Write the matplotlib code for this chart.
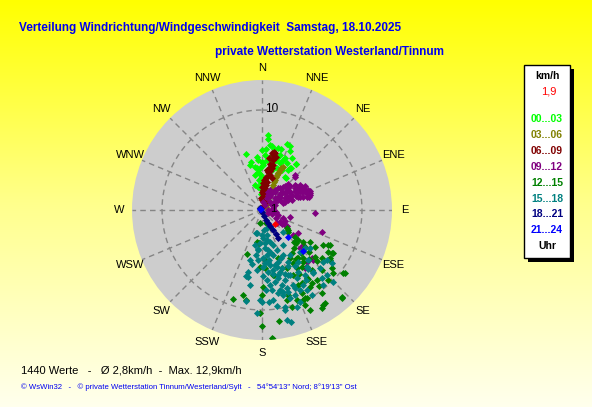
import numpy as np
import matplotlib
matplotlib.use("Agg")
import matplotlib.pyplot as plt
from matplotlib.colors import LinearSegmentedColormap
from matplotlib.patches import Rectangle

# ---------------- data (direction in degrees from N, speed in km/h) ----------------
dir_00_03 = [4.8, 4.6, 20.5, 23.5, 3.8, 11.4, 25.6, -16.2, -5.7, 0, 8.5, 18, 24, 21, 34, 36.6, -9.2, -2.7,
             6.7, 34.6, -2, -5, -9, 3.7, 19.4, 11.7, 15.9, 3, 13.2, 26, 1.7, 6, -5.5, 24, -12.8, -7.2, -4.2,
             36.2, 1.6, 24.7, 33.9, 36.8, -3, -1, 10, 15, 28, 17, 9, -6, -2,
             -11.3, -14.9, -4.6, 0, 7, 14.5, 22.8, 33, 15.6, -15.6, 30]
spd_00_03 = [7.5, 7.1, 7.05, 7.0, 6.1, 6.2, 6.5, 5.8, 5.36, 4.8, 5.4, 5.8, 5.7, 5.0, 5.1, 5.7, 4.4, 4.2,
             4.0, 4.05, 3.5, 3.0, 2.36, 2.0, 4.4, 4.8, 5.4, 5.5, 5.0, 4.5, 4.5, 5.0, 3.85, 4.0, 4.95, 4.2, 3.7,
             5.7, 4.7, 4.5, 5.0, 3.96, 2.7, 3.2, 3.8, 4.2, 5.3, 6.4, 6.5, 2.2, 1.6,
             3.57, 4.66, 5.02, 6.0, 6.55, 6.4, 5.42, 4.77, 5.19, 2.6, 6.0]

dir_03_06 = [53, 40, 31, 28, 26.6, 25, 24.4, 23.8, 23.2, 23, 23, 23.2, 23.4, 23.8, 24.2, 25, 26]
spd_03_06 = [0.5, 0.8, 1.17, 1.5, 1.79, 2.1, 2.42, 2.7, 3.05, 3.3, 3.58, 3.8, 4.03, 4.2, 4.39, 4.6, 4.79]

dir_06_09 = [6, 5.6, 1, 7.9, 2.8, 10.6, 6.8, 12.9, 9.3, 13.1, 9.9, 12.1, 11.6, 11.9, 25.7, -6.3, 15.7, -0.8,
             5.7, 17, 6.7, 14.1, 8.1, 14.7, 12.8, 0, 4, 3, 9, 4, 8, 11, 10, 13, 10]
spd_06_09 = [0.34, 1.34, 1.83, 2.19, 2.67, 2.88, 3.36, 3.59, 3.88, 4.28, 4.64, 5.11, 5.62, 5.96, 0.92, 1.18,
             1.73, 2.33, 3.02, 3.31, 4.03, 4.64, 5.22, 5.51, 5.88, 1.0, 1.6, 2.0, 2.5, 3.0, 3.2, 4.0, 4.4, 5.3, 5.8]

dir_09_12 = [44.7, 58.7, 58.5, 66.6, 72.6, 72.1, 52.7, 47.1, 50.8, 63.2, 64.3, 63, 57.4, 62.7, 22.8, 21.8, 93.6,
             103.4, 111.3, 107, 123, 123, 110, 117, 81.4, 123, 69.5, 56.7, 59.6, 51, 49.7, 58.5, 72.6, 71.4, 70.7,
             132, 125, 123, 130, 139, 135, 134, 19, 22, 37, 42.4, 43.3, 70.8, 65, 73.4, 56.8, 53.5, 59,
             45, 55, 62, 68, 66, 75, 60, 68, 30, 35, 90, 100, 115, 128.6, 143.6, 134.2,
             33, 39.3, 43.8, 49.4, 52.9, 56.7, 60.8, 48.4, 53.5, 57.3, 60.1, 63.4, 67.3, 68.4, 47.3, 60.9,
             70.8, 66.8, 29.7, 45, 69, 70.1, 31, 90, 111.8, 119.7, 123.7, 7]
spd_09_12 = [4.69, 4.18, 4.46, 5.04, 5.03, 4.34, 3.3, 2.69, 2.1, 3.33, 3.85, 2.58, 1.54, 1.09, 1.63, 2.15, 5.31,
             2.88, 2.29, 1.71, 2.75, 2.15, 6.35, 0.71, 1.15, 4.26, 4.77, 3.95, 4.6, 3.18, 2.58, 1.91, 2.23, 3.13, 4.03,
             1.98, 2.41, 2.94, 5.41, 6.83, 5.4, 7.14, 1.94, 1.26, 2.71, 3.16, 4.81, 5.08, 4.74, 4.66, 3.35, 2.24, 1.31,
             3.7, 4.2, 4.0, 3.7, 4.4, 4.9, 2.9, 2.8, 1.8, 2.2, 1.0, 1.4, 2.5, 4.0, 7.24, 6.93,
             2.39, 2.84, 3.32, 3.69, 4.14, 4.55, 4.92, 2.41, 2.86, 3.33, 3.81, 4.25, 4.66, 5.16, 1.77, 2.06,
             2.44, 3.05, 1.61, 1.13, 1.39, 3.83, 0.58, 0.6, 1.08, 1.61, 2.16, 0.81]

dir_12_15 = [117.2, 122.2, 121.8, 125.4, 131.6, 127.9, 137.4, 147.2, 154.4, 154, 148, 142, 144.4, 136.5, 129.9,
             149.9, 141.4, 149.2, 162.8, 151.6, 199, 184.6, 182, 179, 180.2, 192.4, 198.2, 181.1, 180.1, 175.3,
             171.1, 164.7, 158.9, 154.2, 155.6, 127.3, 137.7, 127.3, 148.7, 188.5, 129.5, 129.6, 123.4, 130.5,
             131.4, 129, 126.5, 186.3, 190.3, 117.8, 121.3, 126.3, 143.1, 129, 134.4, 139.5, 146.8, 145.6, 157,
             169.5, 177, 154.5, 152.8, 162.9, 155.3, 146, 145.9, 149.6, 141.7, 144.3, 154.3, 164.5, 154.4, 189.5,
             176.6, 161.4, 161.3, 170.1, 175.7, 135, 140, 138, 145, 136, 133, 140, 145, 150, 132, 128, 125, 120,
             135, 143, 146]
spd_12_15 = [7.65, 7.83, 8.2, 8.34, 9.54, 10.3, 11.78, 11.3, 11.09, 9.82, 9.04, 8.88, 10.25, 9.64, 9.09,
             5.58, 6.62, 6.78, 8.9, 8.34, 4.69, 3.34, 5.67, 7.67, 8.5, 8.7, 9.37, 10.33, 11.57, 12.9,
             11.24, 9.33, 9.65, 8.33, 10.43, 3.3, 11.94, 10.44, 11.5, 1.35, 3.41, 4.71, 5.75, 5.65,
             7.06, 7.68, 3.07, 3.35, 9.15, 7.5, 8.34, 8.44, 6.04, 4.24, 4.76, 6.36, 8.16, 5.25, 6.33,
             6.61, 5.84, 9.23, 9.92, 10.1, 9.9, 11.26, 8.86, 6.18, 7.22, 5.95, 7.21, 1.38, 1.85, 3.21,
             5.0, 5.1, 6.15, 6.6, 12.87, 4.5, 5.0, 5.8, 6.0, 6.8, 7.5, 7.8, 7.0, 7.4, 6.3, 5.2, 6.5, 7.0,
             8.5, 9.5, 8.3]

dir_15_18 = [194.4, 165.6, 174.9, 193.5, 190.8, 184.5, 179.2, 179.3, 191.6, 179.4, 190, 180.2, 175.5, 171.3,
             167.3, 165.5, 167.3, 166, 173.9, 169.7, 176.2, 171.7, 169.3, 165.9, 162.5, 162.2, 165.3, 171, 165.9,
             162.5, 169.4, 165.8, 162.1, 159.8, 154.7, 161.3, 161.8, 157.3, 153, 151.2, 162.4, 135.5, 148.7, 148,
             137.7, 131.7, 128.6, 137.2, 140.3, 138.8, 135.2, 130.1, 149.5, 157.1, 149.7, 165.4, 166.6, 135.1,
             140.7, 146.5, 192.8, 183.5, 193.6, 184.2, 135.2, 127.4, 127.7, 167, 181.3, 183, 172.8, 168.9, 160.3,
             154.6, 150.8, 140.9, 141.7, 175, 178, 170, 176, 168, 174, 172, 177, 165, 170, 174, 167, 160, 158,
             155, 150, 145, 153, 158, 142, 148, 192.5, 188, 186,
             185.7, 180, 191.3, 173.4, 166.7, 163.8, 177.1, 172.9, 156.7, 158.8, 157.6, 189.1]
spd_15_18 = [2.41, 1.89, 3.34, 5.14, 5.53, 6.02, 4.83, 5.67, 6.81, 6.57, 9.24, 9.23, 9.26, 9.68,
             11.27, 11.6, 8.2, 8.76, 7.54, 7.28, 7.02, 5.56, 6.1, 6.7, 8.21, 8.58, 7.75, 4.05, 4.64,
             5.42, 2.54, 3.27, 3.68, 4.26, 4.98, 6.16, 7.37, 8.13, 7.66, 8.56, 9.26, 3.04, 4.1, 5.3,
             5.64, 5.76, 6.14, 6.81, 8.02, 9.07, 8.22, 8.02, 7.16, 8.5, 9.85, 8.44, 9.94, 9.17,
             9.69, 7.79, 2.39, 3.28, 6.79, 5.01, 10.1, 8.77, 8.17, 10.26, 9.0, 10.35, 9.07, 8.49, 10.27,
             8.86, 9.16, 8.15, 7.22, 2.0, 2.8, 3.0, 3.8, 4.4, 4.5, 5.0, 5.3, 5.9, 6.5, 6.2, 7.0, 6.8, 7.0,
             6.2, 6.5, 6.3, 5.8, 5.2, 7.5, 8.3, 6.32, 4.5, 3.9,
             4.02, 2.5, 3.57, 5.23, 5.65, 6.46, 8.01, 8.06, 7.08, 9.12, 9.95, 7.6]

dir_18_21 = [-50, 180, 161.6, 158, 155, 153, 151, 150, 150]
spd_18_21 = [0.26, 0.2, 0.63, 1.08, 1.43, 1.79, 2.28, 2.78, 3.22]

dir_21_24 = [-55, -60, 135.4, 135]
spd_21_24 = [0.12, 0.2, 3.75, 5.78]

current_dir = [137.7]
current_spd = [1.93]

groups = ["00...03", "03...06", "06...09", "09...12", "12...15", "15...18", "18...21", "21...24"]
group_colors = ["#00FF00", "#808000", "#800000", "#800080", "#008000", "#008080", "#000080", "#0000FF"]
group_dirs = [dir_00_03, dir_03_06, dir_06_09, dir_09_12, dir_12_15, dir_15_18, dir_18_21, dir_21_24]
group_spds = [spd_00_03, spd_03_06, spd_06_09, spd_09_12, spd_12_15, spd_15_18, spd_18_21, spd_21_24]

compass = ["N", "NNE", "NE", "ENE", "E", "ESE", "SE", "SSE",
           "S", "SSW", "SW", "WSW", "W", "WNW", "NW", "NNW"]
ring_values = [10]
ring_labels = ["1", "10"]
r_max = 13

title1 = "Verteilung Windrichtung/Windgeschwindigkeit  Samstag, 18.10.2025"
title2 = "private Wetterstation Westerland/Tinnum"
stats_text = "1440 Werte   -   \u00d8 2,8km/h  -  Max. 12,9km/h"
footer = "\u00a9 WsWin32   -   \u00a9 private Wetterstation Tinnum/Westerland/Sylt   -   54\u00b054'13\" Nord; 8\u00b019'13\" Ost"
current_label = "1,9"

# ---------------- figure ----------------
W, H = 592, 407
fig = plt.figure(figsize=(W / 100, H / 100), dpi=100)
plt.rcParams['font.family'] = ['Liberation Sans', 'DejaVu Sans']

def fx(x):
    return x / W

def fy(y):
    return 1 - y / H

# background gradient
bg = fig.add_axes([0, 0, 1, 1], zorder=-10)
cmap = LinearSegmentedColormap.from_list("yel", [(1, 1, 0), (1, 1, 0.55), (1, 1, 0.93)])
bg.imshow(np.linspace(0, 1, 256).reshape(-1, 1), cmap=cmap, aspect='auto', extent=[0, 1, 0, 1])
bg.axis('off')

# polar axes: center (262,210), radius 130 px
cx, cy, R = 262, 210, 130
ax = fig.add_axes([fx(cx - R), fy(cy + R), 2 * R / W, 2 * R / H], projection='polar')
ax.set_theta_zero_location('N')
ax.set_theta_direction(-1)
ax.set_ylim(0, r_max)
ax.set_facecolor('#CDCDCD')
ax.spines['polar'].set_visible(False)
ax.set_xticks([])
ax.set_yticks([])
ax.grid(False)

# dashed grid
for k in range(16):
    th = np.deg2rad(k * 22.5)
    ax.plot([th, th], [0, r_max], color='#858585', lw=1.0, ls=(0, (4, 3)), zorder=1)
th_c = np.linspace(0, 2 * np.pi, 361)
for rv in ring_values:
    ax.plot(th_c, np.full_like(th_c, rv), color='#858585', lw=1.0, ls=(0, (4, 3)), zorder=1)

# ring labels
ax.text(np.deg2rad(86), 0.8, ring_labels[0], fontsize=8, ha='left', va='center', zorder=5)
ax.text(np.deg2rad(5.6), 10.15, ring_labels[1], fontsize=8.5, ha='center', va='center', zorder=0.5)

# compass labels
for k, lab in enumerate(compass):
    ax.text(np.deg2rad(k * 22.5), 14.25, lab, fontsize=8, ha='center', va='center', clip_on=False)

# points
for d, s, c in zip(group_dirs, group_spds, group_colors):
    ax.scatter(np.deg2rad(d), s, marker='D', s=13, c=c, linewidths=0, zorder=3)
ax.scatter(np.deg2rad(current_dir), current_spd, marker='D', s=13, c='#FF0000', linewidths=0, zorder=4)

# titles
fig.text(fx(19), fy(30.5), title1, color='#0000F0', fontsize=8.5, fontweight='bold', ha='left', va='baseline')
fig.text(fx(215), fy(55), title2, color='#0000F0', fontsize=8.5, fontweight='bold', ha='left', va='baseline')
fig.text(fx(21), fy(373.5), stats_text, color='black', fontsize=8, ha='left', va='baseline')
fig.text(fx(21), fy(389), footer, color='#0000F0', fontsize=5.6, ha='left', va='baseline')

# legend box
fig.add_artist(Rectangle((fx(528), fy(262)), 46 / W, 193 / H, transform=fig.transFigure,
                         facecolor='black', edgecolor='none', zorder=5))
fig.add_artist(Rectangle((fx(524), fy(258)), 46 / W, 193 / H, transform=fig.transFigure,
                         facecolor='white', edgecolor='black', lw=1, zorder=6))
lx = 547
fig.text(fx(lx), fy(76), "km/h", fontsize=7.5, fontweight='bold', ha='center', va='center', zorder=7)
fig.text(fx(lx + 2), fy(92), current_label, fontsize=8, color='#FF0000', ha='center', va='center', zorder=7)
for i, (g, c) in enumerate(zip(groups, group_colors)):
    fig.text(fx(lx), fy(119 + i * 15.9), g, fontsize=7.5, fontweight='bold', color=c,
             ha='center', va='center', zorder=7)
fig.text(fx(lx), fy(246), "Uhr", fontsize=7.5, fontweight='bold', ha='center', va='center', zorder=7)

fig.savefig("out.png", dpi=100)
